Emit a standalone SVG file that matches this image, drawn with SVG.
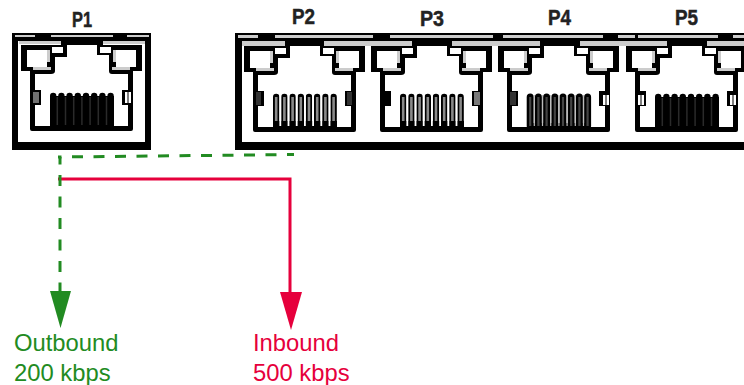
<svg xmlns="http://www.w3.org/2000/svg" width="744" height="385" viewBox="0 0 744 385">
<style>
.w{fill:#fff}.k{fill:#000}.g{fill:#ccc}.d{fill:#333}
.pl{font:bold 22px "Liberation Sans",Arial,sans-serif;fill:#222;stroke:#222;stroke-width:.5}
.t{font-family:"Liberation Sans",Arial,sans-serif;font-size:23.8px}
.gl{fill:#228b22}.rd{fill:#e6003c}
.gs{fill:none;stroke:#228b22;stroke-width:3;stroke-dasharray:11 10.5}
.rs{fill:none;stroke:#e6003c;stroke-width:3}
.pin{fill:none;stroke:#000;stroke-width:6.400;stroke-linecap:round}
</style>
<defs>
<g id="jack">
<path class="k" d="M21 45H142V71H133V129Q133 131 131 131H32Q30 131 30 129V71H21Z"/>
<path class="w" d="M67 45H97V55H109V71Q109 74 112 74H128V126H35V74H51Q55 74 55 71V57H67Z"/>
<rect class="w" x="27" y="50" width="20" height="17"/>
<rect class="w" x="116" y="50" width="20" height="17"/>
<rect class="w" x="52" y="47" width="11" height="6"/>
<rect class="w" x="100" y="47" width="11" height="6"/>
<path class="g" d="M47 50H50V62H47ZM113 50H116V62H113ZM33 67H51V70H33ZM112 67H130V70H112Z"/>
<rect class="k" x="31" y="90" width="10" height="15"/>
<rect class="k" x="122" y="90" width="10" height="15"/>
</g>
<path id="pinpath" d="M53.200 96V125M61.400 96V125M69.600 96V125M77.800 96V125M86 96V125M94.200 96V125M102.400 96V125M110.600 96V125"/>
<g id="pinsDark">
<use href="#pinpath" class="pin"/>
<rect class="k" x="50" y="96" width="64" height="31"/>
<path d="M57.300 97V125M65.500 97V125M73.700 97V125M81.900 97V125M90.100 97V125M98.300 97V125M106.500 97V125" stroke="#2a2a2a" stroke-width="1.500" fill="none"/>
</g>
<g id="pinsLight">
<use href="#pinpath" class="pin"/>
<rect class="k" x="50" y="122" width="64" height="5"/>
<use href="#pinpath" fill="none" stroke="#8a8a8a" stroke-width="2.600"/>
<rect class="k" x="50" y="120" width="64" height="7"/>
<path d="M57.300 93V125M65.500 93V125M73.700 93V125M81.900 93V125M90.100 93V125M98.300 93V125M106.500 93V125" stroke="#fff" stroke-width="1.800" fill="none"/>
</g>
<g id="pinsMid">
<use href="#pinpath" class="pin" style="stroke-width:7"/>
<rect class="k" x="50" y="122" width="64" height="5"/>
<use href="#pinpath" fill="none" stroke="#444" stroke-width="2.200"/>
<path d="M57.300 94V125M65.500 94V125M73.700 94V125M81.900 94V125M90.100 94V125M98.300 94V125M106.500 94V125" stroke="#bbb" stroke-width="1.200" fill="none"/>
</g>
</defs>
<g id="P1">
<path class="k" d="M12 33H151V150H12Z"/>
<rect class="w" x="18" y="41" width="127" height="101"/>
<rect class="g" x="15" y="35" width="20" height="2"/><rect class="g" x="51" y="35" width="62" height="2"/><rect class="g" x="127" y="35" width="22" height="2"/>
<rect class="g" x="19" y="41" width="42" height="3"/><rect class="g" x="103" y="41" width="42" height="3"/>
<rect class="k" x="61" y="37" width="42" height="9"/>
<use href="#jack"/>
<use href="#pinsDark"/>
<rect class="g" x="33" y="92" width="6" height="11" opacity=".55"/>
<rect class="w" x="125" y="92" width="6" height="11"/><rect class="k" x="127.500" y="92" width="1" height="11"/>
<text class="pl" x="72" y="27" textLength="20" lengthAdjust="spacingAndGlyphs">P1</text>
</g>
<g id="frame">
<path class="k" d="M235 33H744V150H235Z"/>
<rect class="w" x="242" y="41" width="502" height="101"/>
<path class="g" d="M238 35H258V38H238ZM275 35H373V38H275ZM390 35H493V38H390ZM503 35H603V38H503ZM618 35H635V38H618ZM638 35H718V38H638ZM733 35H744V38H733Z"/>
<path class="g" d="M242 41H285V46H242ZM324 41H412V46H324ZM452 41H540V46H452ZM580 41H667V46H580ZM707 41H744V46H707Z"/>
<path class="k" d="M285 41H324V47H285ZM412 41H452V47H412ZM540 41H580V47H540ZM667 41H707V47H667Z"/>
</g>
<g id="P2">
<use href="#jack" x="223" y="1"/><use href="#pinsLight" x="223" y="1"/>
<rect class="d" x="256" y="92" width="5" height="13"/><rect class="d" x="347" y="92" width="5" height="13"/>
<text class="pl" x="292" y="24" textLength="23" lengthAdjust="spacingAndGlyphs">P2</text>
</g>
<g id="P3">
<use href="#jack" x="350" y="1"/><use href="#pinsLight" x="350" y="1"/>
<rect class="k" x="383" y="92" width="5" height="13"/><rect class="g" x="474" y="92" width="6" height="13" opacity=".6"/>
<text class="pl" x="420" y="26" textLength="24" lengthAdjust="spacingAndGlyphs">P3</text>
</g>
<g id="P4">
<use href="#jack" x="477" y="1"/><use href="#pinsMid" x="477" y="1"/>
<rect class="d" x="510" y="92" width="6" height="13"/><rect class="w" x="603" y="95" width="6" height="10"/><rect class="k" x="605.500" y="95" width="1" height="10"/>
<text class="pl" x="548" y="25" textLength="23" lengthAdjust="spacingAndGlyphs">P4</text>
</g>
<g id="P5">
<use href="#jack" x="605" y="1"/><use href="#pinsDark" x="605" y="1"/>
<rect class="w" x="638" y="95" width="6" height="10"/><rect class="k" x="640.500" y="95" width="1" height="10"/><rect class="w" x="730" y="95" width="6" height="10"/><rect class="k" x="732.500" y="95" width="1" height="10"/>
<text class="pl" x="675" y="25" textLength="23" lengthAdjust="spacingAndGlyphs">P5</text>
</g>
<g id="connectors">
<path class="rs" d="M58 179H290V294"/>
<path class="gs" style="stroke-dashoffset:7.500" d="M58 157.020L294 154.500"/>
<path class="gs" style="stroke-dashoffset:3.500" d="M60 157V295"/>
<path class="gl" d="M50 291H71L60.500 328Z"/>
<path class="rd" d="M280 292H302L291 330Z"/>
</g>
<g id="labels">
<text class="t gl" x="14" y="351">Outbound</text>
<text class="t gl" x="14" y="381">200 kbps</text>
<text class="t rd" x="253" y="351">Inbound</text>
<text class="t rd" x="253" y="381">500 kbps</text>
</g>
</svg>
